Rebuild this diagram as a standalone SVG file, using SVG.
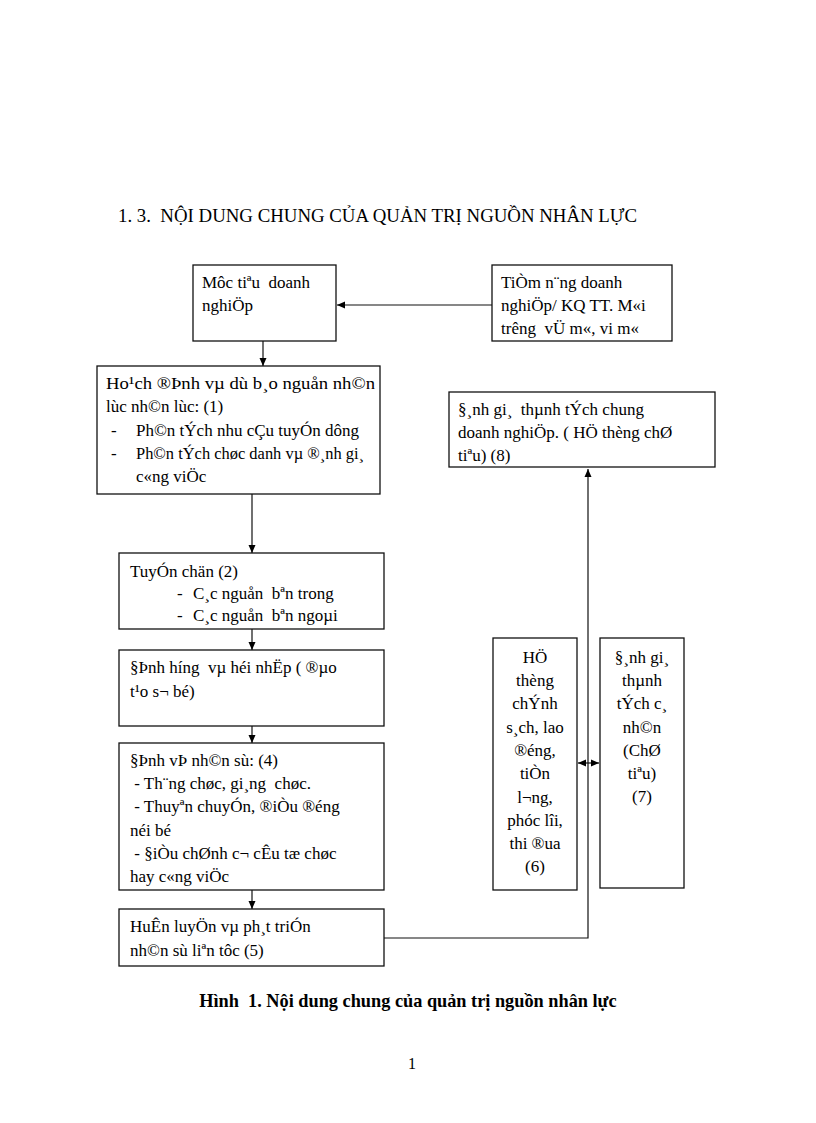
<svg xmlns="http://www.w3.org/2000/svg" width="816" height="1123" viewBox="0 0 816 1123">
<style>
text{font-family:"Liberation Serif","Times New Roman",serif;font-size:17px;fill:#000;white-space:pre}
.box{fill:#fff;stroke:#111;stroke-width:1.3}
.c{text-anchor:middle}
.line{fill:none;stroke:#111;stroke-width:1.2}
.title{font-size:19px}
.cap{font-size:18.3px;font-weight:bold;text-anchor:middle}
</style>
<defs>
<marker id="ah" markerWidth="8" markerHeight="8" refX="8" refY="4" orient="auto" markerUnits="userSpaceOnUse">
<path d="M0,0.5 L8,4 L0,7.5 Z" fill="#000"/>
</marker>
<marker id="ahs" markerWidth="8" markerHeight="8" refX="0" refY="4" orient="auto" markerUnits="userSpaceOnUse">
<path d="M8,0.5 L0,4 L8,7.5 Z" fill="#000"/>
</marker>
</defs>
<rect width="816" height="1123" fill="#fff"/>
<text class="title" x="118" y="222" textLength="519" lengthAdjust="spacingAndGlyphs">1. 3.  NỘI DUNG CHUNG CỦA QUẢN TRỊ NGUỒN NHÂN LỰC</text>

<g id="connectors">
<line class="line" x1="492" y1="305" x2="337" y2="305" marker-end="url(#ah)"/>
<line class="line" x1="263" y1="341" x2="263" y2="366" marker-end="url(#ah)"/>
<line class="line" x1="252" y1="494" x2="252" y2="553" marker-end="url(#ah)"/>
<line class="line" x1="252" y1="629" x2="252" y2="650" marker-end="url(#ah)"/>
<line class="line" x1="252" y1="726" x2="252" y2="743" marker-end="url(#ah)"/>
<line class="line" x1="252" y1="890" x2="252" y2="909" marker-end="url(#ah)"/>
<polyline class="line" points="384,938 588,938 588,469" marker-end="url(#ah)"/>
<line class="line" x1="578" y1="763" x2="599" y2="763" marker-start="url(#ahs)" marker-end="url(#ah)"/>
</g>

<g id="n-muctieu">
<rect class="box" x="193" y="265" width="143" height="76"/>
<text x="202" y="288">Môc tiªu  doanh</text>
<text x="202" y="311">nghiÖp</text>
</g>

<g id="n-tiemnang">
<rect class="box" x="492" y="265" width="180" height="76"/>
<text x="501" y="288">TiÒm n¨ng doanh</text>
<text x="501" y="311">nghiÖp/ KQ TT. M«i</text>
<text x="501" y="334">trêng  vÜ m«, vi m«</text>
</g>

<g id="n-hoachdinh">
<rect class="box" x="97" y="366" width="283" height="128"/>
<text x="106" y="389" textLength="269" lengthAdjust="spacingAndGlyphs">Ho¹ch ®Þnh vµ dù b¸o nguån nh©n</text>
<text x="106" y="412">lùc nh©n lùc: (1)</text>
<text x="111" y="436">-</text>
<text x="136" y="436">Ph©n tÝch nhu cÇu tuyÓn dông</text>
<text x="111" y="459">-</text>
<text x="136" y="459" textLength="228" lengthAdjust="spacingAndGlyphs">Ph©n tÝch chøc danh vµ ®¸nh gi¸</text>
<text x="136" y="482">c«ng viÖc</text>
</g>

<g id="n-tuyenchon">
<rect class="box" x="119" y="553" width="265" height="76"/>
<text x="130" y="577">TuyÓn chän (2)</text>
<text x="177" y="599">-</text>
<text x="193" y="599">C¸c nguån  bªn trong</text>
<text x="177" y="621">-</text>
<text x="193" y="621">C¸c nguån  bªn ngoµi</text>
</g>

<g id="n-dinhhuong">
<rect class="box" x="119" y="650" width="265" height="76"/>
<text x="130" y="673">§Þnh híng  vµ héi nhËp ( ®µo</text>
<text x="130" y="697">t¹o s¬ bé)</text>
</g>

<g id="n-dinhvi">
<rect class="box" x="119" y="743" width="265" height="147"/>
<text x="130" y="766">§Þnh vÞ nh©n sù: (4)</text>
<text x="130" y="789"> - Th¨ng chøc, gi¸ng  chøc.</text>
<text x="130" y="812"> - Thuyªn chuyÓn, ®iÒu ®éng</text>
<text x="130" y="836">néi bé</text>
<text x="130" y="859"> - §iÒu chØnh c¬ cÊu tæ chøc</text>
<text x="130" y="882">hay c«ng viÖc</text>
</g>

<g id="n-huanluyen">
<rect class="box" x="119" y="909" width="265" height="57"/>
<text x="130" y="932">HuÊn luyÖn vµ ph¸t triÓn</text>
<text x="130" y="956">nh©n sù liªn tôc (5)</text>
</g>

<g id="n-danhgiachung">
<rect class="box" x="449" y="392" width="266" height="75"/>
<text x="458" y="415">§¸nh gi¸  thµnh tÝch chung</text>
<text x="458" y="438">doanh nghiÖp. ( HÖ thèng chØ</text>
<text x="458" y="461">tiªu) (8)</text>
</g>

<g id="n-hethong">
<rect class="box" x="493" y="638" width="84" height="252"/>
<text class="c" x="535" y="663">HÖ</text>
<text class="c" x="535" y="686">thèng</text>
<text class="c" x="535" y="709">chÝnh</text>
<text class="c" x="535" y="733">s¸ch, lao</text>
<text class="c" x="535" y="756">®éng,</text>
<text class="c" x="535" y="779">tiÒn</text>
<text class="c" x="535" y="803">l¬ng,</text>
<text class="c" x="535" y="826">phóc lîi,</text>
<text class="c" x="535" y="849">thi ®ua</text>
<text class="c" x="535" y="872">(6)</text>
</g>

<g id="n-danhgiacanhan">
<rect class="box" x="600" y="638" width="84" height="250"/>
<text class="c" x="642" y="663">§¸nh gi¸</text>
<text class="c" x="642" y="686">thµnh</text>
<text class="c" x="642" y="709">tÝch c¸</text>
<text class="c" x="642" y="733">nh©n</text>
<text class="c" x="642" y="756">(ChØ</text>
<text class="c" x="642" y="779">tiªu)</text>
<text class="c" x="642" y="802">(7)</text>
</g>

<text class="cap" x="408" y="1007">Hình  1. Nội dung chung của quản trị nguồn nhân lực</text>
<text x="412" y="1069" style="font-size:16px;text-anchor:middle">1</text>
</svg>
